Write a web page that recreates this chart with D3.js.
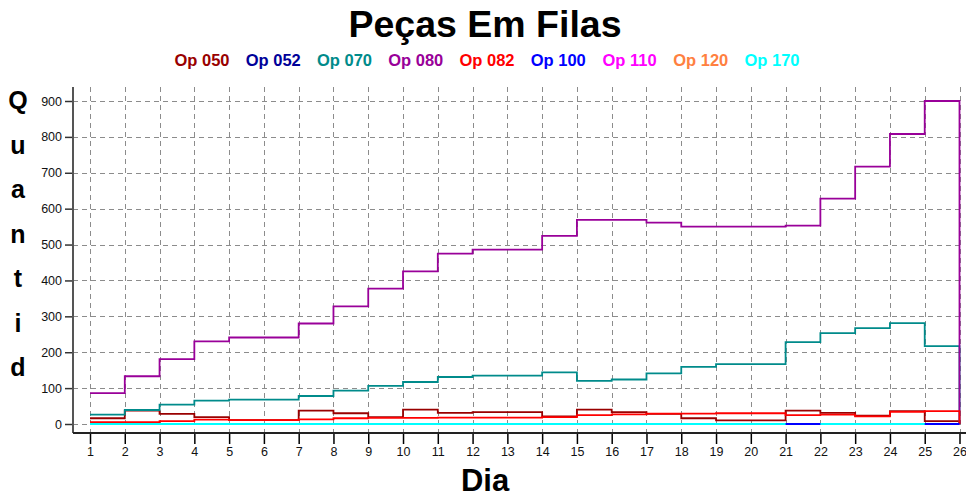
<!DOCTYPE html>
<html><head><meta charset="utf-8">
<script src="https://cdn.jsdelivr.net/npm/d3@7"></script>
<style>
body{margin:0;background:#fff;}
svg{display:block;font-family:"Liberation Sans",Arial,sans-serif;}
</style>
</head><body>
<svg id="chart" width="966" height="497"></svg>
<script>
// ---------- data ----------
const days = [1,2,3,4,5,6,7,8,9,10,11,12,13,14,15,16,17,18,19,20,21,22,23,24,25,26];
const seriesNames = ["Op 050","Op 052","Op 070","Op 080","Op 082","Op 100","Op 110","Op 120","Op 170"];
const seriesColors = ["#990000","#000099","#008B8B","#990099","#FF0000","#0000FF","#FF00FF","#FF8040","#00FFFF"];
const op050 = [16,37,28,19,11,11,37,30,19,40,31,33,33,21,40,33,28,16,10,10,37,31,23,36,8,0];
const op052 = [0,0,0,0,0,0,0,0,0,0,0,0,0,0,0,0,0,0,0,0,0,0,0,0,0,0];
const op070 = [26,39,54,65,68,68,78,93,106,117,131,135,135,144,120,124,141,159,167,167,228,253,267,281,217,0];
const op080 = [86,133,181,230,241,241,280,328,377,425,475,486,486,524,569,569,561,550,550,550,553,628,717,808,900,0];
const op082 = [5,5,8,12,11,11,13,16,17,17,18,18,18,19,25,27,29,29,30,30,25,26,21,34,36,0];
const op100 = [0,0,0,0,0,0,0,0,0,0,0,0,0,0,0,0,0,0,0,0,0,0,0,0,0,0];
const op110 = [0,0,0,0,0,0,0,0,0,0,0,0,0,0,0,0,0,0,0,0,0,0,0,0,0,0];
const op120 = [0,0,0,0,0,0,0,0,0,0,0,0,0,0,0,0,0,0,0,0,0,0,0,0,0,0];
const op170 = [0,0,0,0,0,0,0,0,0,0,0,0,0,0,0,0,0,0,0,0,null,0,0,0,null,0];
const seriesValues = [op050,op052,op070,op080,op082,op100,op110,op120,op170];
const drawOrder = [1,6,7,0,2,3,4,5,8];
const yTicks = [0,100,200,300,400,500,600,700,800,900];
const titleText = "Peças Em Filas";
const xTitleText = "Dia";
const yTitleLetters = ["Q","u","a","n","t","i","d"];
</script>
<script>
const svg = d3.select("#chart");
const axisX0 = 73, plotRight = 962, plotTop = 87, axisY0 = 433;

const x = d3.scaleLinear().domain([1, 26]).range([90, 959.5]);
const y = d3.scaleLinear().domain([0, 900]).range([424, 101]);

// title
svg.append("text").attr("x", 485).attr("y", 37).attr("text-anchor", "middle")
  .attr("font-size", 37.5).attr("font-weight", "bold").attr("fill", "#000").text(titleText);

// legend
const lg = d3.scalePoint().domain(seriesNames).range([202, 772]);
svg.append("g").selectAll("text").data(seriesNames).join("text")
  .attr("x", d => lg(d)).attr("y", 66).attr("text-anchor", "middle")
  .attr("font-size", 16.5).attr("font-weight", "bold")
  .attr("fill", (d, i) => seriesColors[i]).text(d => d);

// grid
const grid = svg.append("g").attr("stroke", "#8c8c8c").attr("stroke-width", 1)
  .attr("stroke-dasharray", "5,4").attr("fill", "none");
grid.selectAll("line.h").data(yTicks).join("line").attr("class", "h")
  .attr("x1", axisX0).attr("x2", plotRight)
  .attr("y1", d => Math.round(y(d)) + 0.5).attr("y2", d => Math.round(y(d)) + 0.5);
grid.selectAll("line.v").data(days).join("line").attr("class", "v")
  .attr("x1", d => Math.round(x(d)) + 0.5).attr("x2", d => Math.round(x(d)) + 0.5)
  .attr("y1", plotTop).attr("y2", axisY0);

// y axis
const yAxis = d3.axisLeft(y).tickValues(yTicks).tickSize(8).tickPadding(3);
const gy = svg.append("g").attr("transform", `translate(${axisX0},0)`).call(yAxis);
gy.select(".domain").remove();
gy.selectAll(".tick line").attr("stroke", "#333").attr("stroke-width", 1.5);
gy.selectAll(".tick text").attr("font-size", 12.5).attr("fill", "#111")
  .attr("font-family", "'Liberation Sans',Arial,sans-serif");
svg.append("line").attr("x1", axisX0).attr("x2", axisX0).attr("y1", plotTop).attr("y2", axisY0)
  .attr("stroke", "#555").attr("stroke-width", 2);

// x axis
const xAxis = d3.axisBottom(x).tickValues(days).tickSize(11).tickPadding(3).tickFormat(d3.format("d"));
const gx = svg.append("g").attr("transform", `translate(0,${axisY0})`).call(xAxis);
gx.select(".domain").remove();
gx.selectAll(".tick line").attr("stroke", "#000").attr("stroke-width", 1.5);
gx.selectAll(".tick text").attr("font-size", 12.5).attr("fill", "#111")
  .attr("font-family", "'Liberation Sans',Arial,sans-serif");
svg.append("line").attr("x1", axisX0).attr("x2", 966).attr("y1", axisY0).attr("y2", axisY0)
  .attr("stroke", "#222").attr("stroke-width", 2);

// axis titles
svg.append("text").attr("x", 485).attr("y", 491).attr("text-anchor", "middle")
  .attr("font-size", 31).attr("font-weight", "bold").attr("fill", "#000").text(xTitleText);
const ly = d3.scalePoint().domain(d3.range(yTitleLetters.length)).range([109, 376]);
svg.append("g").selectAll("text").data(yTitleLetters).join("text")
  .attr("x", 18).attr("y", (d, i) => ly(i)).attr("text-anchor", "middle")
  .attr("font-size", 25).attr("font-weight", "bold").attr("fill", "#000").text(d => d);

// step lines
function stepPoints(vals) {
  const pts = [];
  vals.forEach((v, i) => {
    if (v == null) { pts.push(null); return; }
    pts.push([days[i], v]);
    if (i < vals.length - 1) pts.push([days[i + 1], v]);
  });
  return pts;
}
const line = d3.line().defined(d => d != null).x(d => x(d[0])).y(d => y(d[1]));
svg.append("g").selectAll("path").data(drawOrder).join("path")
  .attr("d", i => line(stepPoints(seriesValues[i])))
  .attr("fill", "none").attr("stroke", i => seriesColors[i])
  .attr("stroke-width", 1.8).attr("stroke-linejoin", "miter");
</script>
</body></html>
